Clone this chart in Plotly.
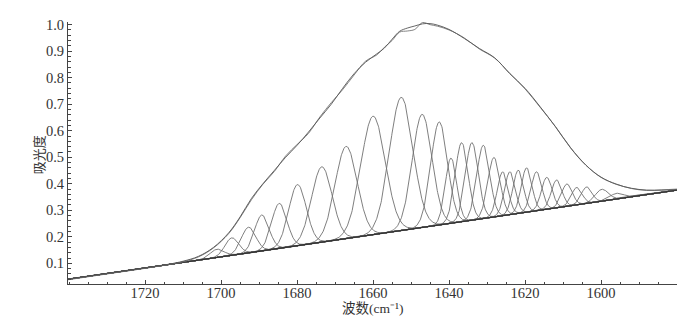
import numpy as np
import plotly.graph_objects as go

# ---- data ----
env_wn = [1740.3, 1730, 1720, 1714, 1710, 1706, 1702, 1698, 1695, 1692, 1689, 1686, 1683,
          1680, 1677, 1674, 1671, 1668, 1665, 1662, 1659, 1657, 1655, 1653, 1651, 1649,
          1647, 1645, 1643, 1640, 1636, 1632, 1628, 1624, 1620, 1616, 1612, 1608, 1604,
          1600, 1596, 1592, 1588, 1584, 1580]
env_fit = [0.040, 0.061, 0.082, 0.096, 0.108, 0.126, 0.160, 0.215, 0.275, 0.345, 0.400, 0.450,
           0.500, 0.545, 0.595, 0.648, 0.700, 0.760, 0.815, 0.858, 0.890, 0.912, 0.945, 0.975,
           0.987, 0.995, 1.003, 1.004, 0.998, 0.982, 0.948, 0.910, 0.875, 0.815, 0.760, 0.690,
           0.615, 0.535, 0.470, 0.425, 0.398, 0.383, 0.376, 0.376, 0.378]
env_meas = [0.038, 0.060, 0.081, 0.095, 0.106, 0.124, 0.158, 0.212, 0.272, 0.340, 0.398, 0.446,
            0.505, 0.548, 0.590, 0.652, 0.706, 0.755, 0.810, 0.862, 0.886, 0.915, 0.940, 0.972,
            0.976, 0.982, 1.008, 1.000, 0.994, 0.980, 0.950, 0.908, 0.874, 0.816, 0.758, 0.688,
            0.616, 0.536, 0.471, 0.424, 0.399, 0.382, 0.375, 0.377, 0.380]

base_wn = [1740.3, 1580]
base_val = [0.040, 0.376]

peak_center = [1701.1, 1697.2, 1692.8, 1689.3, 1684.7, 1679.9, 1673.5, 1667.1, 1660.0,
               1652.6, 1647.1, 1642.6, 1639.5, 1636.7, 1634.0, 1631.0, 1628.2, 1625.9,
               1624.0, 1621.8, 1619.6, 1617.0, 1614.3, 1611.7, 1609.0, 1606.4, 1603.8,
               1599.8, 1595.9]
peak_top = [0.153, 0.196, 0.236, 0.282, 0.326, 0.397, 0.464, 0.541, 0.655,
            0.726, 0.662, 0.633, 0.497, 0.555, 0.555, 0.545, 0.499, 0.445,
            0.445, 0.451, 0.460, 0.445, 0.424, 0.414, 0.399, 0.386, 0.388,
            0.379, 0.364]
peak_sigma = [1.8, 1.8, 1.9, 1.9, 2.0, 2.3, 2.7, 2.9, 3.2,
              3.1, 2.6, 2.2, 1.5, 1.7, 1.7, 1.7, 1.6, 1.4,
              1.4, 1.4, 1.4, 1.4, 1.4, 1.4, 1.4, 1.4, 1.4,
              1.7, 1.8]

x_ticks = [1720, 1700, 1680, 1660, 1640, 1620, 1600]
y_ticks = [0.1, 0.2, 0.3, 0.4, 0.5, 0.6, 0.7, 0.8, 0.9, 1.0]

# ---- figure ----
fig = go.Figure()
wn = np.arange(1580.0, 1740.31, 0.1)
bl = np.interp(wn, base_wn[::-1], base_val[::-1])
for c, t, s in zip(peak_center, peak_top, peak_sigma):
    amp = t - np.interp(c, base_wn[::-1], base_val[::-1])
    y = bl + amp * np.exp(-((wn - c) ** 2) / (2 * s * s))
    fig.add_trace(go.Scatter(x=wn, y=y, mode="lines",
                             line=dict(color="#707070", width=0.9), hoverinfo="skip"))

fig.add_trace(go.Scatter(x=base_wn, y=base_val, mode="lines",
                         line=dict(color="#333333", width=1.3), hoverinfo="skip"))
fig.add_trace(go.Scatter(x=env_wn, y=env_meas, mode="lines",
                         line=dict(color="#777777", width=0.9, shape="spline"), hoverinfo="skip"))
fig.add_trace(go.Scatter(x=env_wn, y=env_fit, mode="lines",
                         line=dict(color="#555555", width=0.9, shape="spline"), hoverinfo="skip"))

font_main = "Liberation Serif"
fig.update_layout(
    width=692, height=323,
    margin=dict(l=68, r=15, t=22, b=39),
    paper_bgcolor="white", plot_bgcolor="white",
    showlegend=False,
    font=dict(family=font_main, size=14.5, color="#333333"),
    xaxis=dict(range=[1740.3, 1580], tickvals=x_ticks, ticktext=[str(v) for v in x_ticks],
               showline=True, linecolor="#444444", linewidth=1,
               ticks="inside", ticklen=4, tickcolor="#444444", ticklabelstandoff=-4,
               tickfont=dict(family=font_main, size=14.5, color="#333333"),
               minor=dict(dtick=5, tick0=1600, ticks="inside", ticklen=2.5, tickcolor="#444444"),
               showgrid=False, zeroline=False, mirror=False),
    yaxis=dict(range=[0.022, 1.01], tickvals=y_ticks, ticktext=[f"{v:.1f}" for v in y_ticks],
               showline=True, linecolor="#444444", linewidth=1,
               ticks="inside", ticklen=4, tickcolor="#444444",
               tickfont=dict(family=font_main, size=14.5, color="#333333"),
               minor=dict(dtick=0.02, tick0=0, ticks="inside", ticklen=2.5, tickcolor="#444444"),
               showgrid=False, zeroline=False, mirror=False),
    annotations=[
        dict(text="波数(cm⁻¹)", x=0.5, y=-0.094, xref="paper", yref="paper",
             xanchor="center", yanchor="middle", showarrow=False,
             font=dict(family="Liberation Serif, Noto Sans CJK SC", size=13.5, color="#333333")),
        dict(text="吸光度", x=-0.049, y=0.492, xref="paper", yref="paper",
             xanchor="center", yanchor="middle", showarrow=False, textangle=-90,
             font=dict(family="Noto Sans CJK SC", size=13, color="#333333")),
    ],
)

fig.write_html("out.html")
